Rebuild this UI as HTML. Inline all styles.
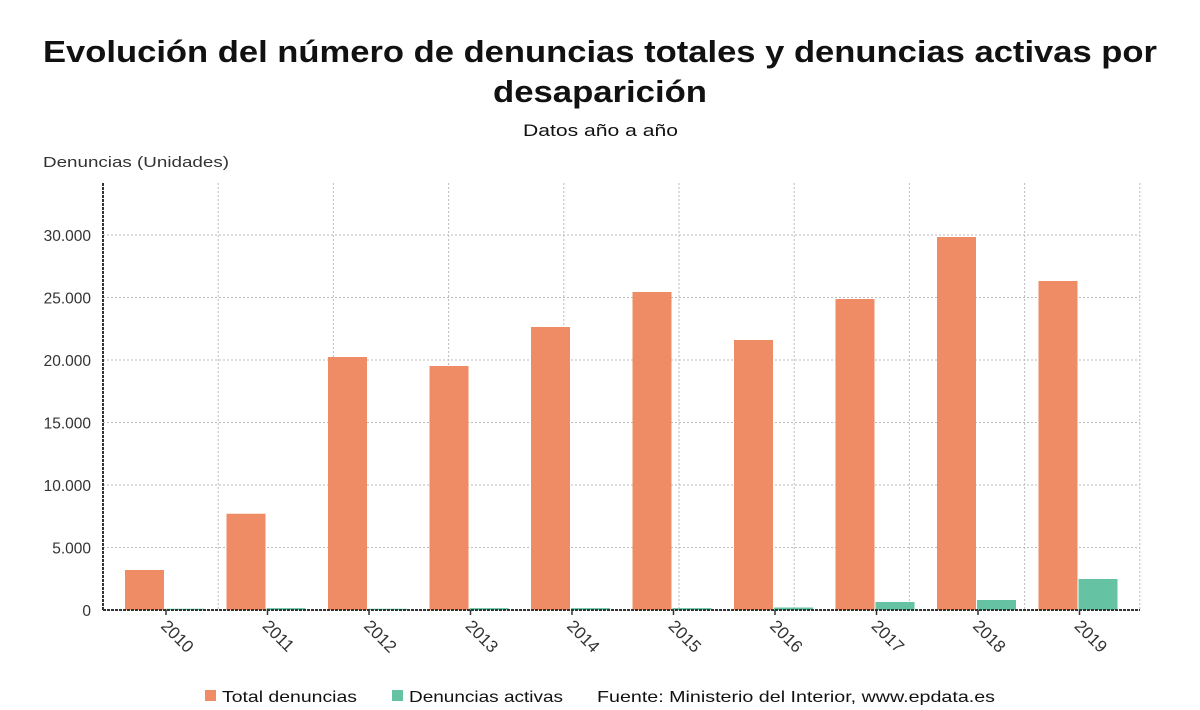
<!DOCTYPE html>
<html><head><meta charset="utf-8"><style>
body{margin:0;background:#fff;font-family:"Liberation Sans",sans-serif;}
svg text{font-family:"Liberation Sans",sans-serif;}
</style></head><body>
<svg width="1200" height="705" viewBox="0 0 1200 705">
<text x="43" y="62" textLength="1114" lengthAdjust="spacingAndGlyphs" font-size="31" font-weight="bold" fill="#111">Evolución del número de denuncias totales y denuncias activas por</text>
<text x="493" y="102" textLength="214" lengthAdjust="spacingAndGlyphs" font-size="31" font-weight="bold" fill="#111">desaparición</text>
<text x="523" y="136" textLength="155" lengthAdjust="spacingAndGlyphs" font-size="17" fill="#111">Datos año a año</text>
<text x="43" y="167" textLength="186" lengthAdjust="spacingAndGlyphs" font-size="15" fill="#333">Denuncias (Unidades)</text>
<g id="grid"></g>
<g id="bars"></g>
<g id="axes"></g>
<g>
<rect x="205" y="690" width="11" height="11" fill="#ef8c65"/>
<text x="222" y="702" textLength="135" lengthAdjust="spacingAndGlyphs" font-size="16" fill="#111">Total denuncias</text>
<rect x="392" y="690" width="11" height="11" fill="#65c3a4"/>
<text x="409" y="702" textLength="154" lengthAdjust="spacingAndGlyphs" font-size="16" fill="#111">Denuncias activas</text>
<text x="597" y="702" textLength="398" lengthAdjust="spacingAndGlyphs" font-size="16" fill="#111">Fuente: Ministerio del Interior, www.epdata.es</text>
</g>
</svg>
<script>
const categories=["2010","2011","2012","2013","2014","2015","2016","2017","2018","2019"];
const totalDenuncias=[3200,7700,20240,19520,22640,25440,21600,24880,29840,26320];
const denunciasActivas=[100,150,100,150,150,150,200,640,800,2480];
const yTicks=[0,5000,10000,15000,20000,25000,30000];
const yTickLabels=["0","5.000","10.000","15.000","20.000","25.000","30.000"];
const NS="http://www.w3.org/2000/svg";
const L=103,R=1140,T=183,B=610;
function y(v){return B-v*(375/30000);}
function xc(i){return 166+i*101.5;}
function mk(tag,attrs,parent){const e=document.createElementNS(NS,tag);for(const k in attrs)e.setAttribute(k,attrs[k]);parent.appendChild(e);return e;}
const grid=document.getElementById('grid'),bars=document.getElementById('bars'),axes=document.getElementById('axes');
yTicks.forEach((t,i)=>{
  if(t>0){const g=mk('line',{x1:L,x2:R,y1:y(t),y2:y(t),stroke:'#bbb','stroke-dasharray':'2,2'},grid);
  
  }
  const tx=mk('text',{x:91,y:y(t)+6,'text-anchor':'end','font-size':15.5,fill:'#333'},axes);
  tx.textContent=yTickLabels[i];
  
  
});
for(let k=1;k<=9;k++){const gx=103+k*115.2;
  const g=mk('line',{x1:gx,x2:gx,y1:T,y2:B,stroke:'#bbb','stroke-dasharray':'2,2'},grid);
  
  }
categories.forEach((c,i)=>{
  const cx=xc(i);
  const b1=mk('rect',{x:cx-41,y:y(totalDenuncias[i]),width:39,height:B-y(totalDenuncias[i]),fill:'#ef8c65'},bars);
  
  
  const b2=mk('rect',{x:cx-1,y:y(denunciasActivas[i]),width:39,height:B-y(denunciasActivas[i]),fill:'#65c3a4'},bars);
  
  
  const tk=mk('line',{x1:cx,x2:cx,y1:B,y2:B+5,stroke:'#333','stroke-width':1.5},axes);
  
  
  const lb=mk('text',{x:cx-6,y:B+17,'font-size':17,fill:'#333',transform:`rotate(45 ${cx-6} ${B+17})`},axes);
  lb.textContent=c;
  
  
});
const ya=mk('line',{x1:L,x2:L,y1:T,y2:B,stroke:'#333','stroke-width':2,'stroke-dasharray':'3,1'},axes);


const xa=mk('line',{x1:L,x2:R,y1:B,y2:B,stroke:'#333','stroke-width':2,'stroke-dasharray':'3,1'},axes);


</script>
</body></html>
